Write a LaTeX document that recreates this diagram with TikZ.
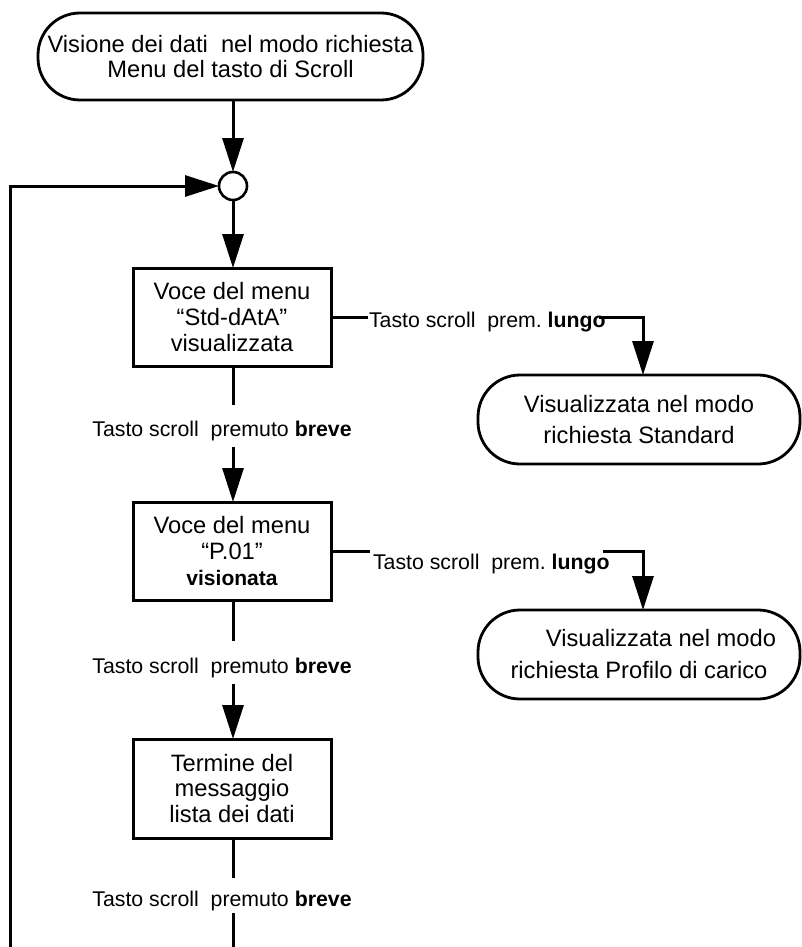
\documentclass[tikz,border=0pt]{standalone}
\usepackage{fontspec}
\setmainfont{Liberation Sans}
\usetikzlibrary{arrows.meta}
\frenchspacing
\begin{document}
\begin{tikzpicture}[x=1pt,y=-1pt,
  line width=3pt,
  every node/.style={inner sep=0pt, outer sep=0pt},
  terminal/.style={draw, rounded corners=42pt, align=center, line width=2.8pt,
    font=\fontsize{23.7}{25.5}\selectfont},
  stepbox/.style={draw, minimum width=198pt, minimum height=98pt, align=center,
    font=\fontsize{23.7}{25.8}\selectfont},
  junction/.style={draw, circle, minimum size=28pt, line width=2.6pt},
  keylabel/.style={font=\fontsize{21.3}{24}\selectfont, inner sep=1pt},
  flow/.style={-{Triangle[length=34pt,width=21pt]}},
  ]
\useasboundingbox[fill=white] (0,0) rectangle (802,947);

% start terminal and junction
\node[terminal, minimum width=385pt, minimum height=87pt] (start) at (230.5,56.5)
  {Visione dei dati~ nel modo richiesta\\Menu del tasto di Scroll};
\node[junction] (join) at (233,186) {};

% menu steps
\node[stepbox] (std) at (232,317) {Voce del menu\\“Std-dAtA”\\visualizzata};
\node[stepbox] (prof) at (232,551)
  {Voce del menu\\“P.01”\\{\fontsize{21}{24}\selectfont\bfseries visionata}};
\node[stepbox, minimum height=99pt] (fine) at (232,788.5)
  {Termine del\\messaggio\\lista dei dati};

% result terminals
\node[terminal, minimum width=322pt, minimum height=89pt,
  font=\fontsize{23.7}{31}\selectfont] (stdview) at (639,419.5)
  {Visualizzata nel modo\\richiesta Standard};
\node[terminal, minimum width=322pt, minimum height=89pt,
  font=\fontsize{23.7}{32}\selectfont] (profview) at (639,654.5)
  {\hspace*{44pt}Visualizzata nel modo\\richiesta Profilo di carico};

% key labels
\node[keylabel, anchor=base west] (long1) at (368,327)
  {Tasto scroll~ prem. \textbf{lungo}};
\node[keylabel, anchor=base west] (long2) at (372,569)
  {Tasto scroll~ prem. \textbf{lungo}};
\node[keylabel, anchor=base] (short1) at (222,436)
  {Tasto scroll~ premuto \textbf{breve}};
\node[keylabel, anchor=base] (short2) at (222,673)
  {Tasto scroll~ premuto \textbf{breve}};
\node[keylabel, anchor=base] (short3) at (222,906)
  {Tasto scroll~ premuto \textbf{breve}};

% free ends of the vertical connectors
\coordinate (s1a) at (233,405);
\coordinate (s1b) at (233,447);
\coordinate (s2a) at (233,641);
\coordinate (s2b) at (233,684);
\coordinate (s3a) at (233,878);
\coordinate (s3b) at (233,913);
\coordinate (down) at (233,947);
\coordinate (loop) at (10,947);

% main flow
\draw[flow] (start.south -| join) -- (join.north);
\draw[flow] (loop) |- (join.west);
\draw[flow] (join.south) -- (std.north -| join);
\draw (std.south -| join) -- (s1a);
\draw[flow] (s1b) -- (prof.north -| join);
\draw (prof.south -| join) -- (s2a);
\draw[flow] (s2b) -- (fine.north -| join);
\draw (fine.south -| join) -- (s3a);
\draw (s3b) -- (down);

% long-press branches
\draw (std.east) -- (long1.west |- std.east);
\draw[flow] ([xshift=-8pt]long1.east |- std.east) -| (stdview.north -| 643,0);
\draw (prof.east) -- ([xshift=-2pt]long2.west |- prof.east);
\draw[flow] ([xshift=-8pt]long2.east |- prof.east) -| (profview.north -| 643,0);
\end{tikzpicture}
\end{document}
